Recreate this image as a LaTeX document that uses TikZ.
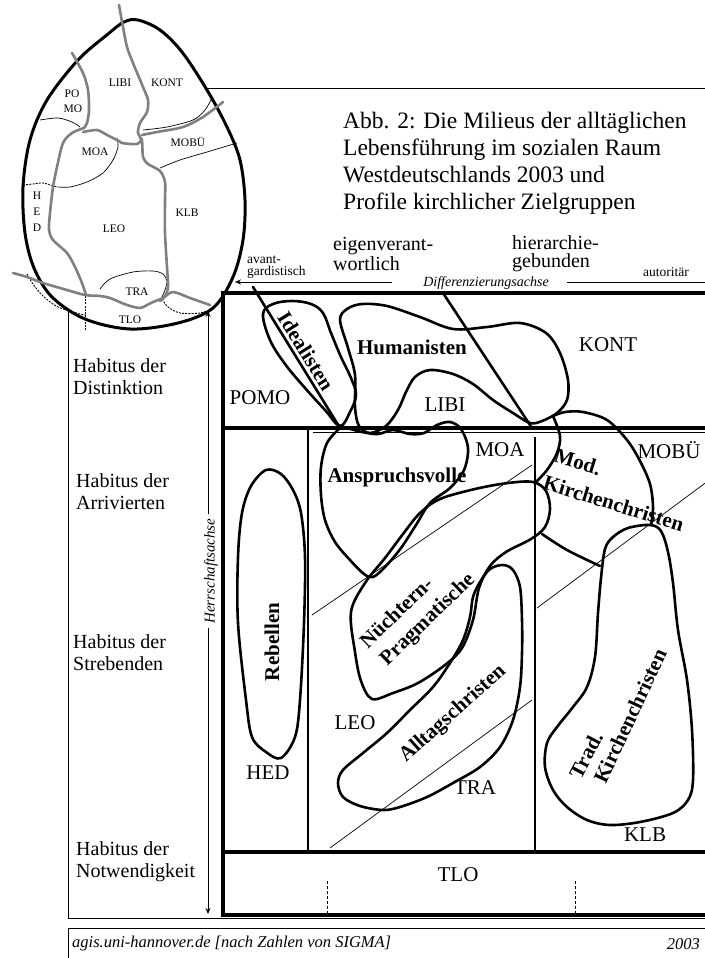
\documentclass[tikz,border=0pt]{standalone}
\usepackage{fontspec}
\setmainfont{Liberation Serif}
\usetikzlibrary{arrows.meta}
\tikzset{
  frame/.style={line width=0.8pt},
  gridline/.style={line width=3.4pt},
  blob/.style={line width=2.6pt, line join=round, line cap=round},
  thinline/.style={line width=0.7pt},
  eggray/.style={line width=2.6pt, color=black!50, line cap=round, line join=round},
  eggthin/.style={line width=0.7pt},
  eggdot/.style={line width=0.9pt, dash pattern=on 2pt off 1.2pt},
  lab/.style={font=\fontsize{21}{22}\selectfont, inner sep=0pt},
  blab/.style={font=\fontsize{21}{22}\selectfont\bfseries, inner sep=0pt},
  elab/.style={font=\fontsize{11.5}{12}\selectfont, inner sep=0pt},
  hab/.style={font=\fontsize{20}{22}\selectfont, inner sep=0pt, align=left, anchor=west},
  small/.style={font=\fontsize{13.5}{12}\selectfont, inner sep=0pt, align=left},
  mid/.style={font=\fontsize{20}{18}\selectfont, inner sep=0pt, align=left},
}
\begin{document}
\begin{tikzpicture}[x=1pt,y=-1pt]
\useasboundingbox (0,0) rectangle (704,958);
\fill[white] (0,0) rectangle (704,958);

% outer thin frame and footer box
\draw[frame] (712,88) -- (68,88) -- (68,918) -- (712,918);
\draw[frame] (712,928) -- (68,928) -- (68,962);

% ---------- egg ----------
\draw[line width=3pt, fill=white] plot[smooth cycle, tension=0.55] coordinates {
 (138,20) (160,30) (182,52) (207,90) (227,127) (240,160) (245,200) (243,240)
 (233,277) (213,308) (178,323) (130,329) (85,319) (52,297) (34,268) (25,233)
 (23,187) (30,140) (47,100) (78,60) (108,34) (124,22)};
% thin black borders
\draw[eggthin] plot[smooth] coordinates {(143,130) (167,127) (193,120) (205,110) (212,98)};
\draw[eggthin] plot[smooth] coordinates {(160,168) (180,160) (207,152) (237,143)};
\draw[eggthin] plot[smooth] coordinates {(40,120) (58,118) (72,122) (80,127)};
\draw[eggthin] plot[smooth] coordinates {(117,138) (118,147) (113,160) (103,173) (87,182) (70,187) (58,187)};
\draw[eggdot] plot[smooth] coordinates {(23,185) (33,184) (43,183) (53,186) (58,187)};
\draw[eggthin] plot[smooth] coordinates {(100,289) (110,279) (133,272) (153,271) (163,274) (167,281) (165,290) (162,297)};
\draw[eggdot] plot[smooth] coordinates {(27,274) (33,284) (43,296) (58,307) (80,314) (86,315)};
\draw[eggdot] (85,296) -- (85,330);
\draw[eggdot] plot[smooth] coordinates {(162,299) (168,307) (180,313) (200,313) (214,308)};
% grey boundaries
\draw[eggray] plot[smooth] coordinates {(119,5) (123,27) (127,47) (133,63) (143,87) (148,100) (147,112) (140,123) (138,133) (142,141) (143,157) (148,164) (160,171) (165,182) (165,200) (165,233) (167,267) (168,287) (165,296) (160,301)};
\draw[eggray] plot[smooth] coordinates {(72,53) (83,73) (88,90) (89,110) (87,123) (84,128)};
\draw[eggray] plot[smooth] coordinates {(84,128) (72,133) (63,143) (57,167) (53,187) (50,213) (49,230) (53,240) (67,253) (75,267) (82,283) (86,295)};
\draw[eggray] plot[smooth] coordinates {(83,132) (97,130) (107,135) (117,140) (122,143) (137,144) (142,139)};
\draw[eggray] plot[smooth] coordinates {(142,135) (157,132) (183,127) (203,117) (223,102)};
\draw[eggray] plot[smooth] coordinates {(13,273) (27,277) (43,283) (67,290) (85,295) (100,296) (110,298) (127,305) (140,308) (147,305) (153,302) (163,298) (173,292) (190,298) (210,305)};
% egg labels
\node[elab] (eLIBI) at (120,83) {LIBI};
\node[elab] (eKONT) at (167,83) {KONT};
\node[elab] (ePO) at (72,94) {PO};
\node[elab] (eMO) at (73,109) {MO};
\node[elab] (eMOA) at (95,152) {MOA};
\node[elab] (eMOBU) at (188,142) {MOBÜ};
\node[elab] (eH) at (37,196) {H};
\node[elab] (eE) at (37,212) {E};
\node[elab] (eD) at (37,228) {D};
\node[elab] (eLEO) at (114,229) {LEO};
\node[elab] (eKLB) at (187,213) {KLB};
\node[elab] (eTRA) at (137,292) {TRA};
\node[elab] (eTLO) at (130,320) {TLO};

% ---------- title ----------
\node[font=\fontsize{23.5}{27}\selectfont, inner sep=0pt, align=left, anchor=north west] (title) at (343,112)
 {Abb. 2: Die Milieus der alltäglichen\\Lebensführung im sozialen Raum\\Westdeutschlands 2003 und\\Profile kirchlicher Zielgruppen};

% ---------- differentiation axis ----------
\node[small, anchor=west] (avant) at (247,267) {avant-\\gardistisch};
\node[mid, anchor=west] (eigen) at (333,254) {eigenverant-\\wortlich};
\node[mid, anchor=west] (hier) at (512,254) {hierarchie-\\gebunden};
\node[small, anchor=west] (autor) at (643,272) {autoritär};
\node[font=\fontsize{14}{14}\selectfont\itshape, inner sep=0pt] (diff) at (486,283) {Differenzierungsachse};
\coordinate (dl) at (392,282);
\coordinate (dt) at (235,282);
\coordinate (dr1) at (567,282);
\coordinate (dr2) at (712,282);
\draw[frame, -{Stealth[length=6pt,width=5pt]}] (dl) -- (dt);
\draw[frame] (dr1) -- (dr2);

% ---------- left habitus labels ----------
\node[hab] (h1) at (73,377) {Habitus der\\Distinktion};
\node[hab] (h2) at (76,492) {Habitus der\\Arrivierten};
\node[hab] (h3) at (73,653) {Habitus der\\Strebenden};
\node[hab] (h4) at (76,862) {Habitus der\\Notwendigkeit};

% Herrschaftsachse
\node[font=\fontsize{15}{15}\selectfont\itshape, inner sep=0pt, rotate=90] (herr) at (211,571) {Herrschaftsachse};
\coordinate (ht) at (208,311);
\coordinate (hb) at (208,914);
\draw[frame, -{Stealth[length=6pt,width=5pt]}] (herr.east) ++(-3,-4) -- (ht);
\draw[frame, -{Stealth[length=6pt,width=5pt]}] (herr.west) ++(-3,4) -- (hb);

% ---------- main grid ----------
\draw[thinline] (330,848) -- (532,700);
\draw[thinline] (312,615) -- (532,465);
\draw[thinline] (537,608) -- (712,478);
\draw[thinline] (313,432) -- (712,432);
\draw[gridline] (712,293) -- (223,293) -- (223,915) -- (712,915);
\draw[gridline] (223,428) -- (712,428);
\draw[gridline] (221,852) -- (712,852);
\draw[line width=2.8pt] (308,428) -- (308,852);
\draw[line width=2.8pt] (535,437) -- (535,852);
\draw[line width=1pt, dash pattern=on 3pt off 2pt] (327,881) -- (327,914);
\draw[line width=1pt, dash pattern=on 3pt off 2pt] (575,881) -- (575,914);

% ---------- milieu blobs ----------
% Idealisten
\draw[blob] (253,287) -- (340,428);
\draw[blob] plot[smooth cycle, tension=0.6] coordinates {
 (263,314) (273,304) (292,301) (311,304) (323,313) (331,333) (341,357) (351,378) (356,395) (350,412) (340,426)
 (325,410) (305,388) (285,364) (270,340)};
% Humanisten
\draw[blob] (443,293) -- (532,428);
\draw[blob] plot[smooth cycle, tension=0.55] coordinates {
 (340,320) (347,309) (362,304) (387,306) (420,317) (453,329) (487,327) (520,323) (546,333) (560,353)
 (568,380) (567,400) (557,413) (542,421) (530,423) (513,413) (493,400) (473,384) (453,374) (430,370)
 (415,377) (406,392) (398,410) (386,426) (370,433) (359,426) (355,407) (355,375) (348,348)};
% Anspruchsvolle
\draw[blob] plot[smooth, tension=0.55] coordinates {
 (340,428) (327,443) (321,467) (321,495) (325,520) (335,542) (350,560) (364,574) (373,577) (385,567)
 (401,548) (416,525) (430,503) (450,488) (464,470) (468,448) (461,429) (450,422) (437,425) (424,433)
 (410,434) (393,430) (378,434) (362,432) (347,428)};
% Nuechtern-Pragmatische
\draw[blob] plot[smooth cycle, tension=0.55] coordinates {
 (351,612) (365,583) (385,558) (403,534) (420,513) (440,499) (475,489) (508,483) (533,482) (546,491)
 (550,509) (545,527) (531,539) (506,552) (490,566) (479,588) (473,620) (462,648) (445,665) (418,683)
 (393,693) (372,699) (361,681) (355,652)};
% Mod. Kirchenchristen
\draw[blob] plot[smooth, tension=0.55] coordinates {
 (553,416) (565,412) (583,412) (607,420) (627,440) (640,461) (650,484) (653,507) (651,525)};
\draw[blob] plot[smooth, tension=0.55] coordinates {
 (553,416) (560,436) (557,453) (547,470) (536,482)};
\draw[blob] plot[smooth, tension=0.55] coordinates {(542,534) (567,550) (600,566)};
% Trad. Kirchenchristen
\draw[blob] plot[smooth cycle, tension=0.55] coordinates {
 (650,525) (661,531) (668,552) (673,583) (678,630) (687,680) (692,730) (693,780) (688,800) (673,813)
 (640,822) (610,825) (587,820) (567,807) (553,790) (545,767) (547,743) (557,727) (573,707) (587,687)
 (595,657) (598,613) (601,578) (605,549) (613,537) (628,528)};
% Alltagschristen
\draw[blob] plot[smooth cycle, tension=0.55] coordinates {
 (490,569) (503,565) (513,570) (520,587) (522,620) (522,653) (520,687) (513,720) (500,747) (480,767)
 (453,783) (427,797) (400,807) (383,810) (360,806) (343,797) (338,783) (343,770) (363,753) (387,733)
 (410,710) (433,687) (450,663) (463,640) (470,617) (473,597) (480,582)};
% Rebellen
\draw[blob] plot[smooth cycle, tension=0.55] coordinates {
 (266,470) (281,474) (293,490) (301,513) (305,557) (304,623) (300,700) (295,737) (281,758) (266,752)
 (252,737) (246,700) (238,623) (238,557) (242,513) (251,486)};

% ---------- milieu labels ----------
\node[lab] (POMO) at (260,398) {POMO};
\node[lab] (LIBI) at (445,405) {LIBI};
\node[lab] (KONT) at (608,345) {KONT};
\node[lab] (MOA) at (500,450) {MOA};
\node[lab] (MOBU) at (669,450) {MOBÜ};
\node[lab] (LEO) at (355,723) {LEO};
\node[lab] (HED) at (268,773) {HED};
\node[lab] (TRA) at (475,788) {TRA};
\node[lab] (KLB) at (645,835) {KLB};
\node[lab] (TLO) at (458,875) {TLO};

\node[blab] (Hum) at (412,347) {Humanisten};
\node[blab, rotate=-58] (Ide) at (306,351) {Idealisten};
\node[blab] (Ans) at (397,477) {Anspruchsvolle};
\node[blab, rotate=-17, anchor=west] (Mod) at (555,455) {Mod.};
\node[blab, rotate=-17, anchor=west] (ModK) at (544,482) {Kirchenchristen};
\node[blab, rotate=90] (Reb) at (272,642) {Rebellen};
\node[blab, rotate=44] (Nue) at (396,612) {Nüchtern-};
\node[blab, rotate=44] (Pra) at (428,620) {Pragmatische};
\node[blab, rotate=42] (All) at (453,714) {Alltagschristen};
\node[blab, rotate=62] (Trad) at (586,755) {Trad.};
\node[blab, rotate=65] (TradK) at (630,716) {Kirchenchristen};

% ---------- footer ----------
\node[font=\fontsize{16.5}{18}\selectfont\itshape, inner sep=0pt, anchor=west] (foot) at (72,944) {agis.uni-hannover.de [nach Zahlen von SIGMA]};
\node[font=\fontsize{16.5}{18}\selectfont\itshape, inner sep=0pt, anchor=east] (year) at (700,944) {2003};
\end{tikzpicture}
\end{document}
